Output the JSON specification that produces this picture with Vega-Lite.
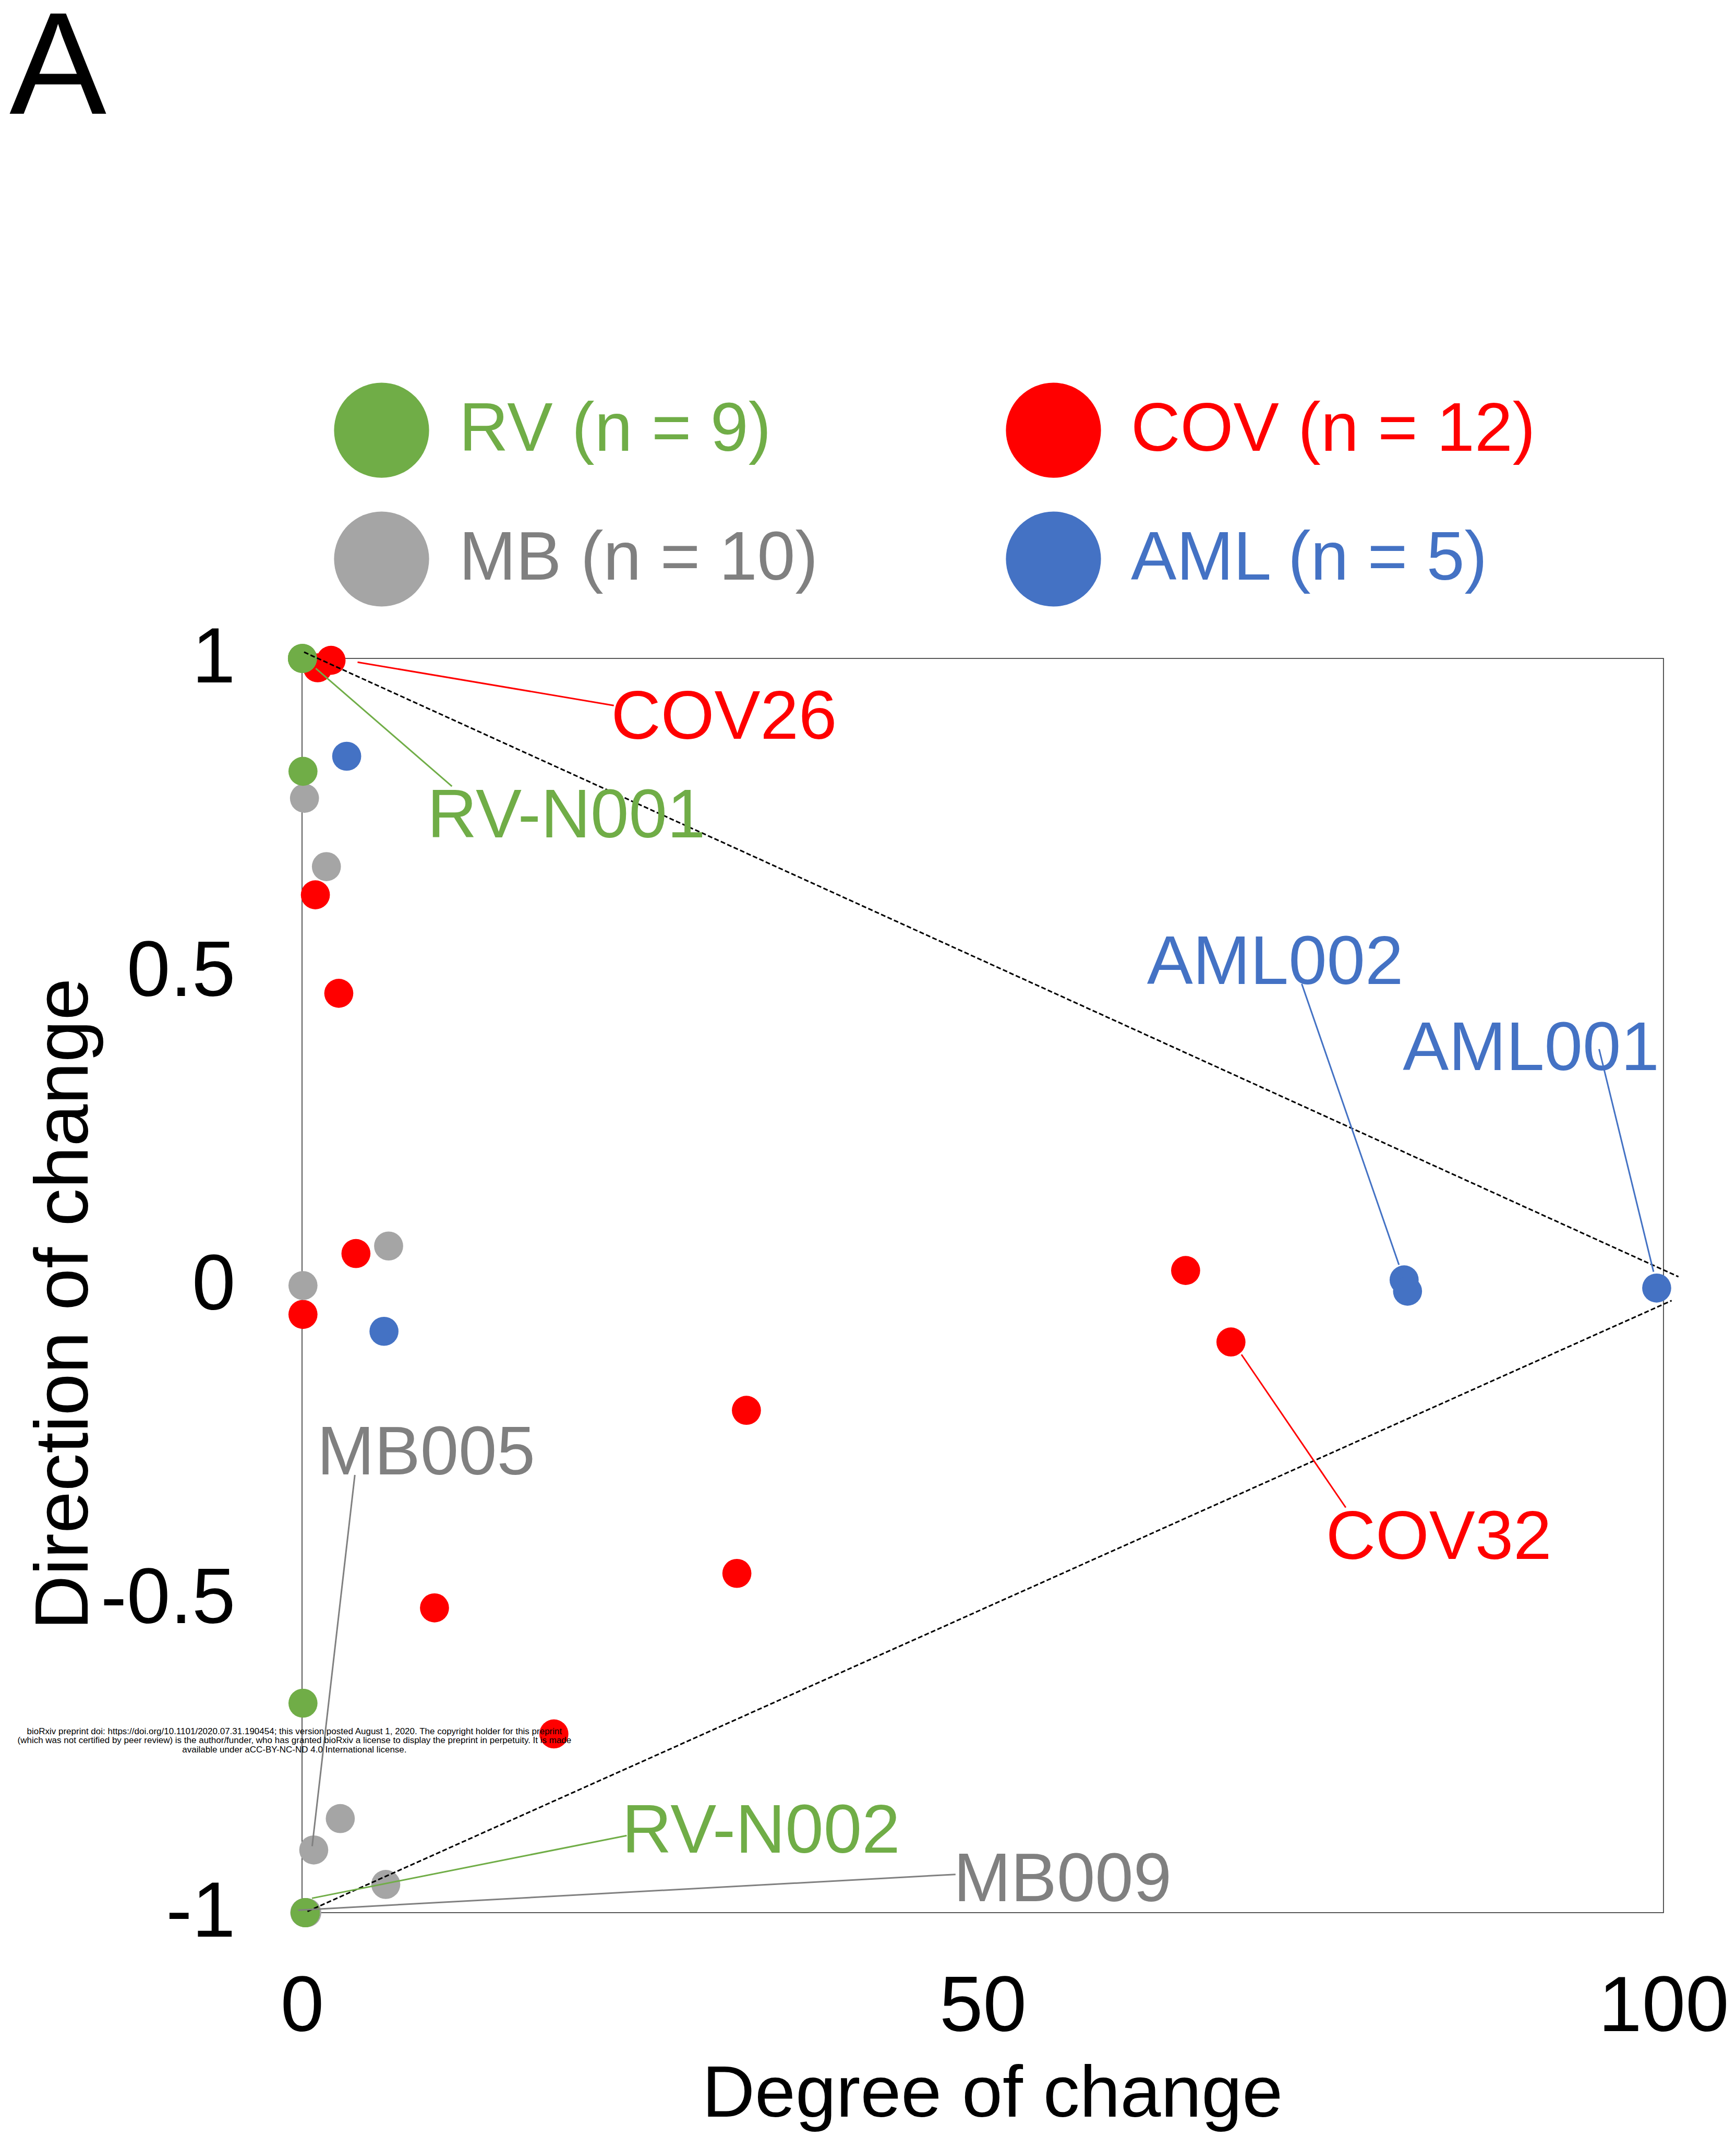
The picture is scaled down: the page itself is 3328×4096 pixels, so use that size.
{
  "$schema": "https://vega.github.io/schema/vega-lite/v6.json",
  "autosize": {"type": "none"},
  "width": 2610,
  "height": 2404,
  "padding": {"left": 579, "top": 1262, "right": 139, "bottom": 430},
  "background": "white",
  "config": {
    "font": "Liberation Sans",
    "view": {"stroke": "#222222", "strokeWidth": 1.5},
    "axis": {"grid": false, "ticks": false, "tickSize": 0, "domain": false, "labelColor": "black", "titleColor": "black", "titleFontWeight": "normal", "labelFont": "Liberation Sans", "titleFont": "Liberation Sans", "labelLimit": 2000, "titleLimit": 4000}
  },
  "title": {"text": "A", "anchor": "start", "frame": "group", "fontSize": 279, "fontWeight": "normal", "font": "Liberation Sans", "color": "black", "baseline": "alphabetic", "dx": -561, "offset": 236},
  "datasets": {
    "points": [
      {"group": "COV", "x": 2.13, "y": 0.997},
      {"group": "COV", "x": 1.15, "y": 0.985},
      {"group": "COV", "x": 0.98, "y": 0.623},
      {"group": "COV", "x": 2.70, "y": 0.466},
      {"group": "COV", "x": 3.96, "y": 0.051},
      {"group": "COV", "x": 0.07, "y": -0.046},
      {"group": "COV", "x": 32.64, "y": -0.199},
      {"group": "COV", "x": 31.94, "y": -0.459},
      {"group": "COV", "x": 9.73, "y": -0.514},
      {"group": "COV", "x": 18.5, "y": -0.715},
      {"group": "COV", "x": 64.9, "y": 0.024},
      {"group": "COV", "x": 68.23, "y": -0.09},
      {"group": "MB", "x": 0.18, "y": 0.777},
      {"group": "MB", "x": 1.79, "y": 0.668},
      {"group": "MB", "x": 6.36, "y": 0.063},
      {"group": "MB", "x": 0.07, "y": 0.0},
      {"group": "MB", "x": 2.81, "y": -0.85},
      {"group": "MB", "x": 0.86, "y": -0.9},
      {"group": "MB", "x": 6.15, "y": -0.955},
      {"group": "MB", "x": 0.35, "y": -1.0},
      {"group": "MB", "x": 0.2, "y": -1.0},
      {"group": "MB", "x": 0.3, "y": -1.0},
      {"group": "AML", "x": 3.28, "y": 0.844},
      {"group": "AML", "x": 6.02, "y": -0.073},
      {"group": "AML", "x": 80.95, "y": 0.009},
      {"group": "AML", "x": 81.2, "y": -0.009},
      {"group": "AML", "x": 99.5, "y": -0.004},
      {"group": "RV", "x": 0.03, "y": 1.0},
      {"group": "RV", "x": 0.03, "y": 1.0},
      {"group": "RV", "x": 0.03, "y": 1.0},
      {"group": "RV", "x": 0.07, "y": 0.82},
      {"group": "RV", "x": 0.07, "y": -0.666},
      {"group": "RV", "x": 0.24, "y": -1.0},
      {"group": "RV", "x": 0.24, "y": -1.0},
      {"group": "RV", "x": 0.24, "y": -1.0},
      {"group": "RV", "x": 0.24, "y": -1.0}
    ],
    "guides": [
      {"x1": 0.15, "y1": 1.01, "x2": 101.1, "y2": 0.014},
      {"x1": 0.4, "y1": -0.998, "x2": 100.6, "y2": -0.024}
    ],
    "leaders": [
      {"group": "COV", "x1": 4.08, "y1": 0.994, "x2": 22.9, "y2": 0.925},
      {"group": "RV", "x1": 1.01, "y1": 0.984, "x2": 11.01, "y2": 0.796},
      {"group": "AML", "x1": 73.43, "y1": 0.481, "x2": 80.57, "y2": 0.033},
      {"group": "AML", "x1": 95.27, "y1": 0.377, "x2": 99.27, "y2": 0.022},
      {"group": "COV", "x1": 69.0, "y1": -0.11, "x2": 76.66, "y2": -0.354},
      {"group": "MB", "x1": 3.88, "y1": -0.302, "x2": 0.745, "y2": -0.894},
      {"group": "RV", "x1": 0.73, "y1": -0.977, "x2": 23.85, "y2": -0.877},
      {"group": "MB", "x1": -0.28, "y1": -0.996, "x2": 48.0, "y2": -0.939}
    ],
    "labels": [
      {"group": "COV", "label": "COV26", "x": 22.7, "y": 0.872},
      {"group": "RV", "label": "RV-N001", "x": 9.2, "y": 0.715},
      {"group": "AML", "label": "AML002", "x": 62.06, "y": 0.481},
      {"group": "AML", "label": "AML001", "x": 80.85, "y": 0.344},
      {"group": "COV", "label": "COV32", "x": 75.2, "y": -0.436},
      {"group": "MB", "label": "MB005", "x": 1.1, "y": -0.301},
      {"group": "RV", "label": "RV-N002", "x": 23.5, "y": -0.9045},
      {"group": "MB", "label": "MB009", "x": 47.85, "y": -0.982}
    ],
    "note": [
      {"x": -0.56, "y": -0.711, "text": "bioRxiv preprint doi: https://doi.org/10.1101/2020.07.31.190454; this version posted August 1, 2020. The copyright holder for this preprint\n(which was not certified by peer review) is the author/funder, who has granted bioRxiv a license to display the preprint in perpetuity. It is made\navailable under aCC-BY-NC-ND 4.0 International license."}
    ]
  },
  "layer": [
    {
      "data": {"name": "points"},
      "mark": {"type": "circle", "size": 3100, "opacity": 1},
      "encoding": {
        "x": {"field": "x", "type": "quantitative", "scale": {"domain": [0, 100], "nice": false, "zero": false},
          "axis": {"values": [0, 50, 100], "labelFontSize": 150, "labelBaseline": "alphabetic", "labelPadding": 226, "labelExpr": "'' + datum.value", "title": "Degree of change", "titleFontSize": 140, "titleBaseline": "alphabetic", "titleX": 1323, "titleY": 390, "labelFlush": false, "labelOverlap": false}},
        "y": {"field": "y", "type": "quantitative", "scale": {"domain": [-1, 1], "nice": false, "zero": false},
          "axis": {"values": [-1, -0.5, 0, 0.5, 1], "labelFontSize": 150, "labelPadding": 128, "labelExpr": "'' + datum.value", "title": "Direction of change", "titleFontSize": 145, "titleBaseline": "alphabetic", "titleX": -412, "titleY": 1237, "labelFlush": false, "labelOverlap": false}},
        "color": {"field": "group", "type": "nominal",
          "scale": {"domain": ["RV", "MB", "COV", "AML"], "range": ["#70AD47", "#A5A5A5", "#FF0000", "#4472C4"]},
          "legend": {"orient": "none", "legendX": 61, "legendY": -529, "columns": 2, "title": null, "padding": 0,
            "symbolType": "circle", "symbolSize": 33200, "symbolStrokeWidth": 0, "symbolOpacity": 1,
            "labelFontSize": 131, "labelFont": "Liberation Sans", "labelOffset": 57, "columnPadding": 359, "rowPadding": 64, "labelLimit": 2000,
            "labelExpr": "datum.label == 'RV' ? 'RV (n = 9)' : datum.label == 'COV' ? 'COV (n = 12)' : datum.label == 'MB' ? 'MB (n = 10)' : 'AML (n = 5)'",
            "encode": {
              "labels": {"update": {"fill": {"signal": "datum.value == 'RV' ? '#70AD47' : datum.value == 'COV' ? '#FF0000' : datum.value == 'MB' ? '#808080' : '#4472C4'"}}},
              "symbols": {"update": {"fill": {"signal": "datum.value == 'RV' ? '#70AD47' : datum.value == 'COV' ? '#E31A00' : datum.value == 'MB' ? '#BFBFBF' : '#4472C4'"}}}
            }
          }
        }
      }
    },
    {
      "data": {"name": "guides"},
      "mark": {"type": "rule", "color": "black", "strokeWidth": 3, "strokeDash": [9, 4.5]},
      "encoding": {
        "x": {"field": "x1", "type": "quantitative"},
        "x2": {"field": "x2"},
        "y": {"field": "y1", "type": "quantitative"},
        "y2": {"field": "y2"}
      }
    },
    {
      "data": {"name": "leaders"},
      "mark": {"type": "rule", "strokeWidth": 3},
      "encoding": {
        "x": {"field": "x1", "type": "quantitative"},
        "x2": {"field": "x2"},
        "y": {"field": "y1", "type": "quantitative"},
        "y2": {"field": "y2"},
        "color": {"field": "group", "type": "nominal", "legend": null,
          "scale": {"domain": ["RV", "COV", "MB", "AML"], "range": ["#70AD47", "#FF0000", "#808080", "#4472C4"]}}
      }
    },
    {
      "data": {"name": "labels"},
      "mark": {"type": "text", "fontSize": 132, "align": "left", "baseline": "alphabetic", "font": "Liberation Sans"},
      "encoding": {
        "x": {"field": "x", "type": "quantitative"},
        "y": {"field": "y", "type": "quantitative"},
        "text": {"field": "label"},
        "color": {"field": "group", "type": "nominal", "legend": null,
          "scale": {"domain": ["RV", "COV", "MB", "AML"], "range": ["#70AD47", "#FF0000", "#808080", "#4472C4"]}}
      }
    },
    {
      "data": {"name": "note"},
      "mark": {"type": "text", "fontSize": 17, "lineHeight": 17.5, "align": "center", "baseline": "middle", "lineBreak": "\n", "color": "black", "font": "Liberation Sans"},
      "encoding": {
        "x": {"field": "x", "type": "quantitative"},
        "y": {"field": "y", "type": "quantitative"},
        "text": {"field": "text"}
      }
    }
  ],
  "resolve": {"scale": {"color": "independent"}}
}
